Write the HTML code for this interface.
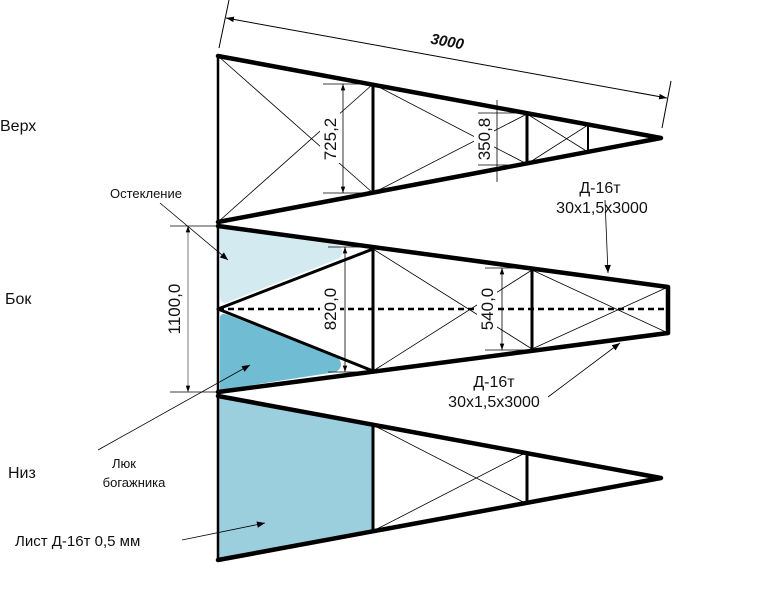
<!DOCTYPE html>
<html><head><meta charset="utf-8"><style>body{margin:0;background:#fff}svg{display:block}text{font-family:"Liberation Sans",sans-serif;fill:#111}</style></head><body>
<svg width="768" height="614" viewBox="0 0 768 614" xmlns="http://www.w3.org/2000/svg">
<defs><marker id="a" viewBox="0 0 10 10" refX="10" refY="5" markerWidth="8" markerHeight="8" orient="auto-start-reverse"><path d="M0,1.5L10,5L0,8.5z" fill="#000"/></marker>
<marker id="b" viewBox="0 0 10 10" refX="10" refY="5" markerWidth="12" markerHeight="10" orient="auto"><path d="M0,1L10,5L0,9z" fill="#000"/></marker></defs>
<path d="M220,228 L338,245 Q345,250 340,258 L228,302 Q220,305 220,296 Z" fill="#d3eaf1"/>
<path d="M220,318 Q220,312 228,315 L338,358 Q345,366 336,372 L220,390 Z" fill="#6fbcd3"/>
<path d="M219,396 L373,425 L373,531 L219,560 Z" fill="#9ccfde"/>
<line x1="219" y1="48" x2="229" y2="0" stroke="#000" stroke-width="1"/>
<line x1="662" y1="128" x2="671" y2="81" stroke="#000" stroke-width="1"/>
<line x1="226" y1="18" x2="667" y2="98" stroke="#000" stroke-width="1" marker-start="url(#a)" marker-end="url(#a)"/>
<text x="430" y="47" font-size="15" font-weight="bold" font-style="italic" transform="rotate(10 450 45)">3000</text>
<g stroke="#000" stroke-width="0.8" fill="none">
<line x1="218" y1="56" x2="373" y2="193"/><line x1="218" y1="222" x2="373" y2="84"/>
<line x1="373" y1="84" x2="527" y2="164"/><line x1="373" y1="193" x2="527" y2="114"/>
<line x1="527" y1="114" x2="588" y2="152"/><line x1="527" y1="164" x2="588" y2="125"/>
<line x1="373" y1="249" x2="532" y2="349"/><line x1="373" y1="371" x2="532" y2="270"/>
<line x1="532" y1="270" x2="668" y2="333"/><line x1="532" y1="349" x2="668" y2="287"/>
<line x1="373" y1="425" x2="527" y2="504"/><line x1="373" y1="531" x2="527" y2="452"/>
</g>
<line x1="218" y1="309" x2="668" y2="309" stroke="#000" stroke-width="2.5" stroke-dasharray="6,4"/>
<!-- white behind dimension text -->
<g fill="#fff">
<rect x="320" y="113" width="20" height="50"/>
<rect x="474" y="113" width="20" height="50"/>
<rect x="320" y="283" width="20" height="52"/>
<rect x="477" y="283" width="20" height="52"/>
<rect x="164" y="280" width="20" height="58"/>
</g>
<g stroke="#000" stroke-width="0.8" fill="none">
<line x1="323" y1="84" x2="373" y2="84"/><line x1="323" y1="193" x2="373" y2="193"/>
<line x1="478" y1="113" x2="527" y2="113"/><line x1="478" y1="165" x2="527" y2="165"/>
<line x1="497" y1="100" x2="497" y2="182"/>
<line x1="343" y1="84" x2="343" y2="193" marker-start="url(#a)" marker-end="url(#a)"/>
<line x1="328" y1="247" x2="372" y2="247"/><line x1="328" y1="372" x2="372" y2="372"/>
<line x1="345" y1="247" x2="345" y2="372" marker-start="url(#a)" marker-end="url(#a)"/>
<line x1="485" y1="268" x2="532" y2="268"/><line x1="485" y1="350" x2="532" y2="350"/>
<line x1="502" y1="268" x2="502" y2="350" marker-start="url(#a)" marker-end="url(#a)"/>
<line x1="170" y1="226" x2="218" y2="226"/><line x1="170" y1="392" x2="218" y2="392"/>
<line x1="188" y1="226" x2="188" y2="392" marker-start="url(#a)" marker-end="url(#a)" stroke="#555"/>
<line x1="160" y1="203" x2="228" y2="260" marker-end="url(#b)"/>
<line x1="98" y1="450" x2="250" y2="365" marker-end="url(#b)"/>
<line x1="605" y1="200" x2="608" y2="273" marker-end="url(#b)"/>
<line x1="548" y1="397" x2="620" y2="343" marker-end="url(#b)"/>
<line x1="182" y1="540" x2="265" y2="523" marker-end="url(#b)"/>
</g>
<g stroke="#000" stroke-width="4.5" fill="none" stroke-linejoin="round" stroke-linecap="round">
<polyline points="218,56 661,138 218,222"/>
<line x1="218" y1="56" x2="218" y2="560" stroke-width="2.5"/>
<polyline points="218,226 668,287 668,333 218,392"/>
<polyline points="218,309 373,249" stroke-width="3"/><polyline points="218,309 373,371" stroke-width="3"/>
<polyline points="218,396 661,478 218,560"/>
</g>
<g stroke="#000" stroke-width="3">
<line x1="373" y1="84" x2="373" y2="193"/><line x1="527" y1="114" x2="527" y2="164"/><line x1="588" y1="125" x2="588" y2="152" stroke-width="2"/>
<line x1="373" y1="249" x2="373" y2="371"/><line x1="532" y1="270" x2="532" y2="349"/>
<line x1="373" y1="425" x2="373" y2="531"/><line x1="527" y1="452" x2="527" y2="504"/>
</g>
<g font-size="16">
<text x="0" y="131">Верх</text>
<text x="5" y="304">Бок</text>
<text x="8" y="478">Низ</text>
</g>
<text x="330" y="139" font-size="17" transform="rotate(-90 330 139)" text-anchor="middle" dy="6">725,2</text>
<text x="484" y="139" font-size="17" transform="rotate(-90 484 139)" text-anchor="middle" dy="6">350,8</text>
<text x="330" y="309" font-size="17" transform="rotate(-90 330 309)" text-anchor="middle" dy="6">820,0</text>
<text x="487" y="309" font-size="17" transform="rotate(-90 487 309)" text-anchor="middle" dy="6">540,0</text>
<text x="174" y="309" font-size="17" transform="rotate(-90 174 309)" text-anchor="middle" dy="6">1100,0</text>
<text x="110" y="198" font-size="13">Остекление</text>
<text x="600" y="193" font-size="16" text-anchor="middle">Д-16т</text>
<text x="602" y="213" font-size="16" text-anchor="middle">30х1,5х3000</text>
<text x="494" y="387" font-size="16" text-anchor="middle">Д-16т</text>
<text x="494" y="407" font-size="16" text-anchor="middle">30х1,5х3000</text>
<text x="124" y="468" font-size="13" text-anchor="middle">Люк</text>
<text x="134" y="487" font-size="13" text-anchor="middle">богажника</text>
<text x="15" y="546" font-size="15">Лист Д-16т 0,5 мм</text>
</svg>
</body></html>
